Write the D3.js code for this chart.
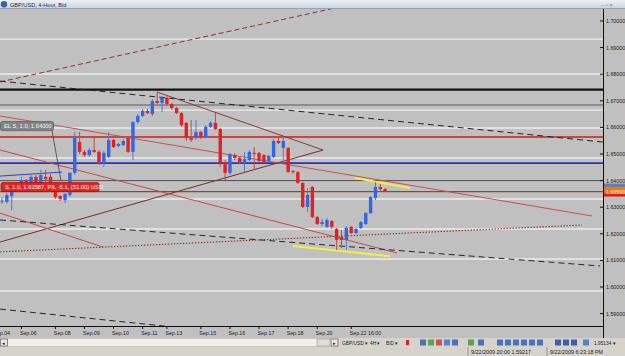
<!DOCTYPE html>
<html>
<head>
<meta charset="utf-8">
<script src="https://cdn.jsdelivr.net/npm/d3@7"></script>
<style>
body { margin: 0; overflow: hidden; background: #d4d0c8; }
svg text { font-family: "Liberation Sans", Arial, sans-serif; }
</style>
</head>
<body>
<div id="chart"></div>
<script>
// ---- GBP/USD 4-hour candles ----
var candleOpen = [1.6323,1.6320,1.6342,1.6365,1.6391,1.6399,1.6391,1.6414,1.6391,1.6414,
  1.6414,1.6380,1.6342,1.6327,1.6346,1.6429,1.6545,1.6508,1.6496,1.6515,
  1.6508,1.6470,1.6489,1.6553,1.6530,1.6534,1.6560,1.6508,1.6620,1.6643,
  1.6662,1.6650,1.6699,1.6692,1.6711,1.6688,1.6673,1.6654,1.6617,1.6560,
  1.6560,1.6583,1.6564,1.6602,1.6617,1.6594,1.6470,1.6429,1.6496,1.6485,
  1.6470,1.6477,1.6504,1.6504,1.6496,1.6474,1.6489,1.6549,1.6523,1.6523,
  1.6436,1.6432,1.6391,1.6301,1.6376,1.6263,1.6237,1.6226,1.6248,1.6218,
  1.6188,1.6177,1.6226,1.6203,1.6222,1.6237,1.6278,1.6335,1.6376,1.6368];
var candleHigh = [1.6338,1.6353,1.6372,1.6387,1.6414,1.6406,1.6421,1.6421,1.6440,1.6440,
  1.6425,1.6387,1.6346,1.6353,1.6432,1.6583,1.6583,1.6515,1.6523,1.6560,
  1.6515,1.6511,1.6583,1.6556,1.6541,1.6556,1.6564,1.6624,1.6650,1.6669,
  1.6669,1.6707,1.6733,1.6718,1.6718,1.6692,1.6677,1.6658,1.6620,1.6628,
  1.6628,1.6586,1.6609,1.6624,1.6654,1.6598,1.6477,1.6504,1.6504,1.6489,
  1.6508,1.6515,1.6526,1.6508,1.6500,1.6496,1.6556,1.6564,1.6564,1.6526,
  1.6440,1.6436,1.6395,1.6372,1.6380,1.6267,1.6256,1.6259,1.6252,1.6222,
  1.6214,1.6229,1.6229,1.6222,1.6248,1.6282,1.6342,1.6395,1.6387,1.6372];
var candleLow = [1.6312,1.6312,1.6289,1.6357,1.6380,1.6391,1.6387,1.6380,1.6387,1.6395,
  1.6380,1.6331,1.6323,1.6316,1.6338,1.6421,1.6500,1.6489,1.6489,1.6504,
  1.6459,1.6451,1.6485,1.6523,1.6526,1.6530,1.6504,1.6477,1.6613,1.6639,
  1.6650,1.6643,1.6688,1.6658,1.6684,1.6665,1.6650,1.6602,1.6549,1.6545,
  1.6553,1.6556,1.6560,1.6598,1.6590,1.6451,1.6402,1.6421,1.6477,1.6462,
  1.6432,1.6474,1.6440,1.6470,1.6466,1.6470,1.6485,1.6538,1.6466,1.6429,
  1.6425,1.6387,1.6297,1.6282,1.6259,1.6233,1.6229,1.6222,1.6218,1.6139,
  1.6147,1.6139,1.6199,1.6199,1.6218,1.6233,1.6274,1.6327,1.6357,1.6357];
var candleClose = [1.6324,1.6346,1.6365,1.6383,1.6402,1.6395,1.6414,1.6383,1.6421,1.6406,
  1.6383,1.6338,1.6331,1.6350,1.6429,1.6560,1.6508,1.6496,1.6515,1.6508,
  1.6470,1.6504,1.6553,1.6526,1.6538,1.6549,1.6508,1.6620,1.6643,1.6662,
  1.6654,1.6699,1.6692,1.6711,1.6688,1.6673,1.6654,1.6609,1.6560,1.6553,
  1.6583,1.6564,1.6602,1.6617,1.6594,1.6466,1.6429,1.6500,1.6485,1.6470,
  1.6481,1.6508,1.6500,1.6474,1.6470,1.6493,1.6549,1.6541,1.6549,1.6432,
  1.6432,1.6391,1.6301,1.6346,1.6263,1.6237,1.6244,1.6252,1.6226,1.6177,
  1.6177,1.6222,1.6203,1.6218,1.6244,1.6278,1.6338,1.6376,1.6368,1.6359];

// time axis labels and the bar index each one sits on
var dateLabels = ["Sep.04","Sep.06","Sep.08","Sep.09","Sep.10","Sep.11","Sep.13",
  "Sep.15","Sep.16","Sep.17","Sep.18","Sep.20","Sep.22 16:00"];
var dateIndex = [-1.5, 4, 11, 17, 23, 29, 34, 41, 47, 53, 59, 65, 72];

// price axis
var priceTicks = [1.70, 1.69, 1.68, 1.67, 1.66, 1.65, 1.64, 1.63, 1.62, 1.61, 1.60, 1.59];

// horizontal lines drawn on the chart
var levelNames  = ["black", "gray", "red", "blue", "order", "position"];
var levelPrices = [1.6742, 1.6684, 1.6564, 1.6466, 1.6400, 1.63587];
var whiteLevels = [1.6932, 1.6801, 1.6665, 1.6598, 1.6485, 1.6331, 1.6218, 1.6105, 1.5985];

// trend lines: [bar index, price] at each end
var trendNames = ["brownDash", "blackDash", "triTop", "triBottom", "redLong",
  "redShort", "redMid", "brownDot", "blackDash2", "blackDash3", "yellowTop", "yellowBottom", "blueThin"];
var trendFrom = [[-0.41,1.6771],[-0.41,1.6774],[31.96,1.6733],[-0.41,1.6169],[-0.41,1.6643],
  [-0.41,1.6278],[-0.41,1.6515],[-0.41,1.6132],[-0.41,1.6252],[-0.41,1.5917],
  [72.78,1.6410],[60.0,1.6154],[-0.41,1.6417]];
var trendTo = [[68.66,1.7049],[123.9,1.6545],[66.19,1.6515],[66.19,1.6515],[121.65,1.6267],
  [20.82,1.6150],[81.44,1.6128],[119.59,1.6233],[123.3,1.6079],[35.67,1.5849],
  [84.12,1.6372],[80.0,1.6116],[12.37,1.6432]];

var W = 625, H = 356;
var plot = {left: 0, right: 603, top: 9, bottom: 326};

var svg = d3.select("#chart").append("svg")
    .attr("width", W)
    .attr("height", H);

var x = d3.scaleLinear().domain([0, 79]).range([2, 2 + 79 * 4.85]);
var y = d3.scaleLinear().domain([1.58534, 1.70451]).range([plot.bottom, plot.top]);

// window background
svg.append("rect").attr("width", W).attr("height", H).attr("fill", "#c0c0c0");

var defs = svg.append("defs");
defs.append("clipPath").attr("id", "plotclip").append("rect")
    .attr("x", plot.left).attr("y", plot.top)
    .attr("width", plot.right - plot.left).attr("height", plot.bottom - plot.top);
var grad = defs.append("linearGradient").attr("id", "titlegrad")
    .attr("x1", 0).attr("y1", 0).attr("x2", 0).attr("y2", 1);
grad.append("stop").attr("offset", "0%").attr("stop-color", "#eef2f6");
grad.append("stop").attr("offset", "100%").attr("stop-color", "#c9d1da");

var g = svg.append("g").attr("clip-path", "url(#plotclip)");

// light horizontal levels
g.selectAll(".white").data(whiteLevels).enter().append("line")
    .attr("x1", plot.left).attr("x2", plot.right)
    .attr("y1", function(d) { return y(d); })
    .attr("y2", function(d) { return y(d); })
    .attr("stroke", "#ececec")
    .attr("stroke-width", 1.4);

var levelStyle = {
    black:    {c: "#111111", w: 2.2},
    gray:     {c: "#7c7c7c", w: 1.4},
    red:      {c: "#d81818", w: 1.6},
    blue:     {c: "#2830c8", w: 1.8},
    order:    {c: "#505050", w: 1},
    position: {c: "#8a4a2a", w: 1.2}
};

g.selectAll(".level").data(levelPrices).enter().append("line")
    .attr("x1", plot.left).attr("x2", plot.right)
    .attr("y1", function(d) { return y(d); })
    .attr("y2", function(d) { return y(d); })
    .attr("stroke", function(d, i) { return levelStyle[levelNames[i]].c; })
    .attr("stroke-width", function(d, i) { return levelStyle[levelNames[i]].w; });

var trendStyle = {
    brownDash:    {c: "#7a3838", w: 1, dash: "5,3"},
    blackDash:    {c: "#262626", w: 1, dash: "6,4"},
    triTop:       {c: "#8c3a3a", w: 1, dash: null},
    triBottom:    {c: "#7a2a2a", w: 1, dash: null},
    redLong:      {c: "#c85050", w: 1, dash: null},
    redShort:     {c: "#c84848", w: 1, dash: null},
    redMid:       {c: "#c84848", w: 1, dash: null},
    brownDot:     {c: "#8a3030", w: 1, dash: "1.5,1.5"},
    blackDash2:   {c: "#262626", w: 1, dash: "6,4"},
    blackDash3:   {c: "#262626", w: 1, dash: "6,4"},
    yellowTop:    {c: "#f4f040", w: 2, dash: null},
    yellowBottom: {c: "#f4f040", w: 2, dash: null},
    blueThin:     {c: "#3040c0", w: 1, dash: null}
};

g.selectAll(".trend").data(trendNames).enter().append("line")
    .attr("x1", function(d, i) { return x(trendFrom[i][0]); })
    .attr("y1", function(d, i) { return y(trendFrom[i][1]); })
    .attr("x2", function(d, i) { return x(trendTo[i][0]); })
    .attr("y2", function(d, i) { return y(trendTo[i][1]); })
    .attr("stroke", function(d) { return trendStyle[d].c; })
    .attr("stroke-width", function(d) { return trendStyle[d].w; })
    .attr("stroke-dasharray", function(d) { return trendStyle[d].dash; });

// candles
var bars = d3.range(candleOpen.length);
var up = function(i) { return candleClose[i] >= candleOpen[i]; };

g.selectAll(".wick").data(bars).enter().append("line")
    .attr("x1", function(i) { return x(i); })
    .attr("x2", function(i) { return x(i); })
    .attr("y1", function(i) { return y(candleHigh[i]); })
    .attr("y2", function(i) { return y(candleLow[i]); })
    .attr("stroke", function(i) { return up(i) ? "#5a78c8" : "#c04848"; })
    .attr("stroke-width", 1);

g.selectAll(".body").data(bars).enter().append("rect")
    .attr("x", function(i) { return x(i) - 1.7; })
    .attr("width", 3.4)
    .attr("y", function(i) { return y(Math.max(candleOpen[i], candleClose[i])); })
    .attr("height", function(i) {
        return Math.max(1, Math.abs(y(candleOpen[i]) - y(candleClose[i])));
    })
    .attr("fill", function(i) { return up(i) ? "#3366e0" : "#e02222"; });

// order labels on the chart
var elY = y(1.6400);
g.append("line")
    .attr("x1", 52).attr("y1", elY - 50)
    .attr("x2", 61).attr("y2", elY)
    .attr("stroke", "#404040").attr("stroke-width", 0.8);
g.append("rect")
    .attr("x", 0.5).attr("y", elY - 59).attr("width", 53).attr("height", 9).attr("rx", 2)
    .attr("fill", "#858585").attr("stroke", "#5a5a5a").attr("stroke-width", 0.8);
g.append("text")
    .attr("x", 4).attr("y", elY - 52.4)
    .attr("font-size", 5.8).attr("fill", "#f4f4f4")
    .text("EL S, 1.0, 1.64000");

var posY = y(1.63587);
g.append("rect")
    .attr("x", 1).attr("y", posY - 9).attr("width", 98).attr("height", 9).attr("rx", 2)
    .attr("fill", "#e42424").attr("stroke", "#a81010").attr("stroke-width", 0.8);
g.append("text")
    .attr("x", 5).attr("y", posY - 2.4)
    .attr("font-size", 5.8).attr("fill", "#ffffff")
    .text("S, 1.0, 1.63587, P/L -5.1, (51.00) USD");

// ---- price axis ----
svg.append("line")
    .attr("x1", plot.right + 0.5).attr("x2", plot.right + 0.5)
    .attr("y1", plot.top).attr("y2", 338)
    .attr("stroke", "#101010");
var pa = svg.append("g");
pa.selectAll("line").data(priceTicks).enter().append("line")
    .attr("x1", plot.right - 3).attr("x2", plot.right)
    .attr("y1", function(d) { return y(d); })
    .attr("y2", function(d) { return y(d); })
    .attr("stroke", "#101010");
pa.selectAll("text").data(priceTicks).enter().append("text")
    .attr("x", plot.right + 3)
    .attr("y", function(d) { return y(d) + 2; })
    .attr("font-size", 5.3).attr("fill", "#202020")
    .text(function(d) { return d3.format(".5f")(d); });

// current price marker
svg.append("rect")
    .attr("x", plot.right + 1).attr("y", y(1.6400) + 3).attr("width", 21).attr("height", 4)
    .attr("fill", "#6b7caa");
svg.append("rect")
    .attr("x", plot.right + 1).attr("y", y(1.63587) - 4).attr("width", 21).attr("height", 8)
    .attr("fill", "#e87818");
svg.append("rect")
    .attr("x", plot.right + 1).attr("y", y(1.63587) + 2).attr("width", 21).attr("height", 3)
    .attr("fill", "#d82020");
svg.append("text")
    .attr("x", plot.right + 3).attr("y", y(1.63587) + 2)
    .attr("font-size", 5.3).attr("fill", "#ffe8c0")
    .text("1.63590");

// ---- time axis ----
svg.append("line")
    .attr("x1", 0).attr("x2", plot.right)
    .attr("y1", plot.bottom + 0.5).attr("y2", plot.bottom + 0.5)
    .attr("stroke", "#101010");
var ta = svg.append("g");
ta.selectAll("line").data(dateIndex).enter().append("line")
    .attr("x1", function(d) { return x(d); })
    .attr("x2", function(d) { return x(d); })
    .attr("y1", plot.bottom).attr("y2", plot.bottom + 3)
    .attr("stroke", "#101010");
ta.selectAll("text").data(dateLabels).enter().append("text")
    .attr("x", function(d, i) { return x(dateIndex[i]) - 1.5; })
    .attr("y", plot.bottom + 9)
    .attr("font-size", 5.3).attr("fill", "#202020")
    .text(function(d) { return d; });

// ---- title bar ----
svg.append("rect").attr("width", W).attr("height", 9).attr("fill", "url(#titlegrad)");
svg.append("line").attr("x1", 0).attr("x2", W).attr("y1", 8.5).attr("y2", 8.5).attr("stroke", "#9aa4b0");
svg.append("circle").attr("cx", 4).attr("cy", 4.3).attr("r", 3.2).attr("fill", "#3a64a8");
svg.append("text").attr("x", 10).attr("y", 6.8)
    .attr("font-size", 5.6).attr("fill", "#1c2c44")
    .text("GBP/USD, 4-Hour, Bid");
svg.append("text").attr("x", 601).attr("y", 6.8)
    .attr("font-size", 5.6).attr("fill", "#707880")
    .text("–  ▫  ×");

// ---- scrollbar + toolbar ----
svg.append("rect").attr("x", 0).attr("y", 338).attr("width", W).attr("height", 18).attr("fill", "#d6d3cc");
svg.append("rect").attr("x", 0).attr("y", 338.5).attr("width", 338).attr("height", 8)
    .attr("fill", "#f2f0ea").attr("stroke", "#b8b4ac").attr("stroke-width", 0.5);
svg.append("rect").attr("x", 0.5).attr("y", 339).attr("width", 7).attr("height", 7)
    .attr("fill", "#e8e6e0").attr("stroke", "#888");
svg.append("text").attr("x", 2).attr("y", 345).attr("font-size", 5).attr("fill", "#222").text("◂");
svg.append("rect").attr("x", 317).attr("y", 339).attr("width", 13).attr("height", 7)
    .attr("fill", "#e0ddd6").attr("stroke", "#9a968e").attr("stroke-width", 0.6);
svg.append("rect").attr("x", 331).attr("y", 339).attr("width", 7).attr("height", 7)
    .attr("fill", "#e8e6e0").attr("stroke", "#888");
svg.append("text").attr("x", 333).attr("y", 345).attr("font-size", 5).attr("fill", "#222").text("▸");

var tb = svg.append("g").attr("font-size", 4.8).attr("fill", "#1a1a1a");
tb.append("text").attr("x", 342).attr("y", 344.8).text("GBP/USD ▾");
tb.append("text").attr("x", 370).attr("y", 344.8).text("4H ▾");
tb.append("text").attr("x", 386).attr("y", 344.8).text("BID ▾");
tb.append("rect").attr("x", 406).attr("y", 340).attr("width", 3).attr("height", 5).attr("fill", "#d02020");
var iconX = [420, 428, 436, 444, 452, 468, 478, 497, 505, 513, 521, 529, 537, 555, 563, 571, 583];
var iconC = ["#2a5ab8", "#3a9a30", "#d03030", "#3a6ad0", "#2a5ab8", "#3a9a30", "#2a5ab8", "#2a5ab8",
  "#2a5ab8", "#2a5ab8", "#2a5ab8", "#2a5ab8", "#2a5ab8", "#2040a0", "#2040a0", "#2040a0", "#3a6ad0"];
tb.selectAll("rect.icon").data(iconX).enter().append("rect")
    .attr("class", "icon")
    .attr("x", function(d) { return d; }).attr("y", 339.5)
    .attr("width", 6).attr("height", 6)
    .attr("fill", function(d, i) { return iconC[i]; })
    .attr("opacity", 0.8);
tb.append("text").attr("x", 594).attr("y", 344.8).text("1.95134 ▾");

var sb = svg.append("g").attr("font-size", 5.4).attr("fill", "#1a1a1a");
sb.append("line").attr("x1", 468).attr("x2", 468).attr("y1", 347).attr("y2", 356).attr("stroke", "#9a968e");
sb.append("line").attr("x1", 547).attr("x2", 547).attr("y1", 347).attr("y2", 356).attr("stroke", "#9a968e");
sb.append("text").attr("x", 471).attr("y", 354).text("9/22/2009 20:00  1.59217");
sb.append("text").attr("x", 550).attr("y", 354).text("9/22/2009 6:23:18 PM");
</script>
</body>
</html>
